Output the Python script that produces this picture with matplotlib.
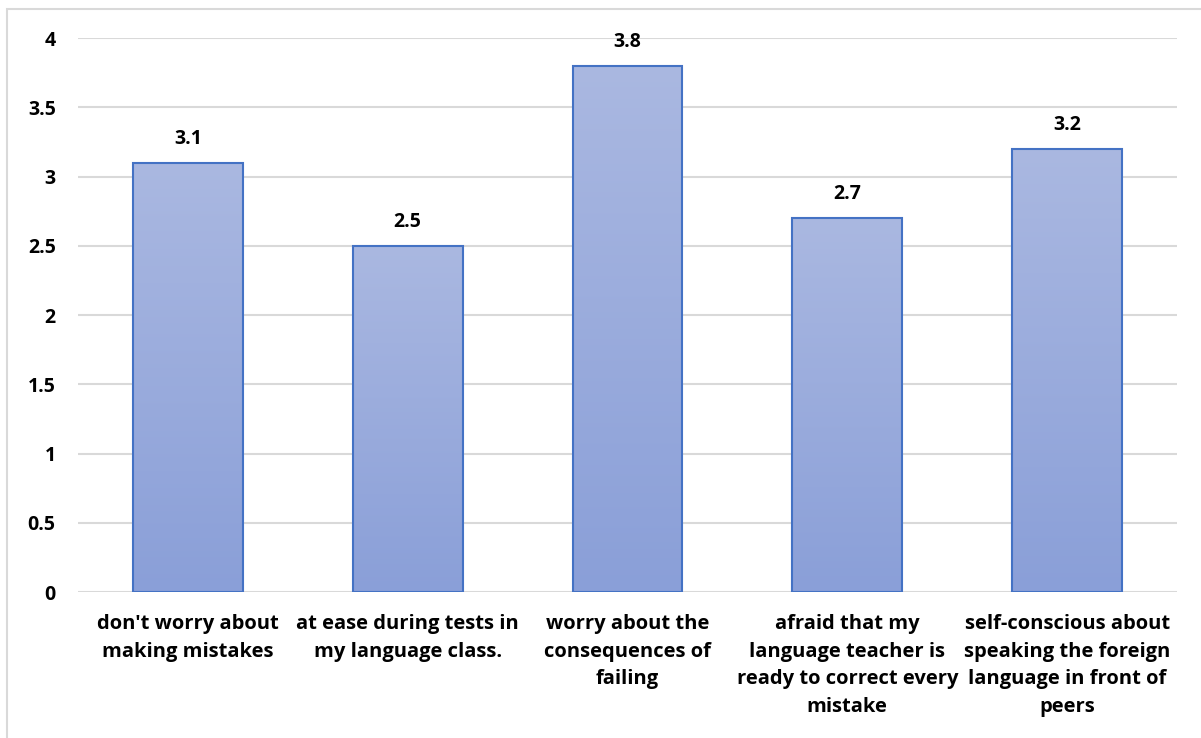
import numpy as np
import matplotlib.pyplot as plt
from matplotlib.patches import Rectangle
from matplotlib.colors import LinearSegmentedColormap

categories = [
    "don't worry about\nmaking mistakes",
    "at ease during tests in\nmy language class.",
    "worry about the\nconsequences of\nfailing",
    "afraid that my\nlanguage teacher is\nready to correct every\nmistake",
    "self-conscious about\nspeaking the foreign\nlanguage in front of\npeers",
]
values = [3.1, 2.5, 3.8, 2.7, 3.2]
yticks = [0, 0.5, 1, 1.5, 2, 2.5, 3, 3.5, 4]

plt.rcParams['font.family'] = ['Open Sans', 'DejaVu Sans']
plt.rcParams['font.weight'] = 'bold'

fig = plt.figure(figsize=(12.01, 7.38), dpi=100)
ax = fig.add_axes([0.0649, 0.1978, 0.9151, 0.7507])

# outer chart frame
fig.patches.append(Rectangle((7 / 1201, -0.05), 1.1, (738 - 9) / 738 + 0.05,
                             transform=fig.transFigure, fill=False,
                             edgecolor='#d9d9d9', linewidth=1.5, zorder=0))

x = np.arange(len(values))
bars = ax.bar(x, values, width=0.5, facecolor='none', edgecolor='#4472c4',
              linewidth=1.5, zorder=3)

# vertical gradient fill inside each bar
cmap = LinearSegmentedColormap.from_list('fill', ['#8a9fd8', '#aab8e1'])
grad = np.linspace(0, 1, 256).reshape(-1, 1)
for b in bars:
    x0, w, h = b.get_x(), b.get_width(), b.get_height()
    im = ax.imshow(grad, cmap=cmap, origin='lower', aspect='auto',
                   extent=[x0, x0 + w, 0, h], zorder=2)
    im.set_clip_path(b)

for xi, v in zip(x, values):
    ax.annotate(f"{v}", xy=(xi, v), xytext=(0, 10), textcoords='offset points',
                ha='center', va='bottom', fontsize=14, fontweight='bold')

ax.set_xlim(-0.5, len(values) - 0.5)
ax.set_ylim(0, 4)
ax.set_yticks(yticks)
ax.set_yticklabels([f"{t:g}" for t in yticks])
ax.set_xticks(x)
ax.set_xticklabels(categories, linespacing=1.5)
ax.tick_params(axis='both', length=0, labelsize=14.5)
ax.tick_params(axis='y', pad=16, labelsize=14)
ax.tick_params(axis='x', pad=16)
ax.grid(axis='y', color='#d9d9d9', linewidth=1.5, zorder=0)
ax.set_axisbelow(True)
for s in ax.spines.values():
    s.set_visible(False)

fig.savefig("out.png", dpi=100)
